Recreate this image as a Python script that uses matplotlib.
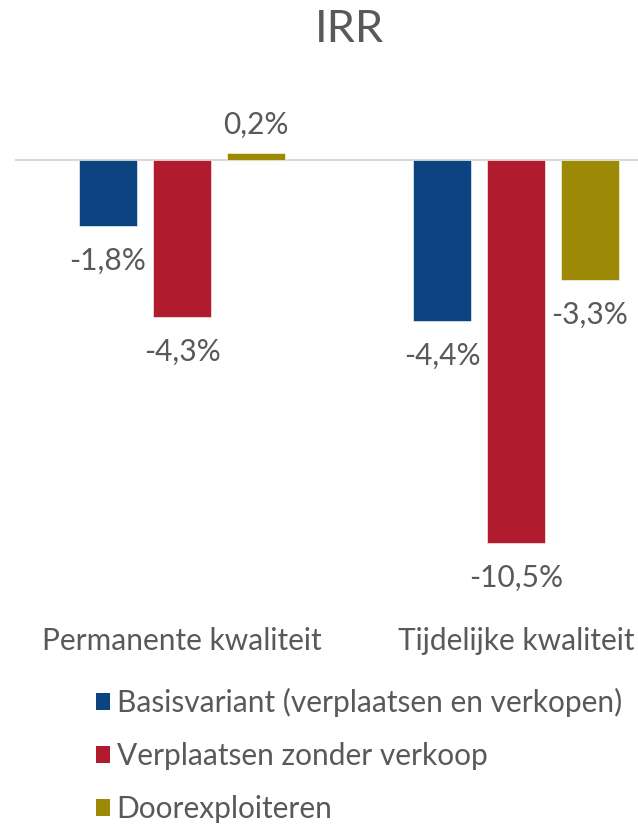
import matplotlib
matplotlib.use("Agg")
import matplotlib.pyplot as plt
from matplotlib.patches import Patch
import numpy as np

categories = ["Permanente kwaliteit", "Tijdelijke kwaliteit"]
series_names = [
    "Basisvariant (verplaatsen en verkopen)",
    "Verplaatsen zonder verkoop",
    "Doorexploiteren",
]
basis = [-1.8, -4.4]
zonder_verkoop = [-4.3, -10.5]
doorexploiteren = [0.2, -3.3]
series_values = [basis, zonder_verkoop, doorexploiteren]
colors = ["#0B4480", "#B01C2E", "#9C8A06"]

text_color = "#595959"
plt.rcParams["font.family"] = ["Lato", "DejaVu Sans"]
fs = 21.5

W, H = 638, 825
fig = plt.figure(figsize=(W / 100, H / 100), dpi=100)

# axes placed in pixel units: left 15, right 638, top 100, bottom 560
ax_left, ax_right, ax_top, ax_bottom = 15, 638, 100, 560
ax = fig.add_axes([ax_left / W, 1 - ax_bottom / H,
                   (ax_right - ax_left) / W, (ax_bottom - ax_top) / H])

px_per_unit_x = 334.0
center0_px = 182.0
ax.set_xlim((ax_left - center0_px) / px_per_unit_x,
            (ax_right - center0_px) / px_per_unit_x)
px_per_pct = 36.5
zero_px = 160.0
ax.set_ylim(-(ax_bottom - zero_px) / px_per_pct, (zero_px - ax_top) / px_per_pct)

x = np.arange(len(categories))
bar_w = 58 / px_per_unit_x
step = 74 / px_per_unit_x

for i, (vals, col) in enumerate(zip(series_values, colors)):
    xpos = x + (i - 1) * step
    ax.bar(xpos, vals, width=bar_w, color=col, edgecolor="white",
           linewidth=0.4, zorder=2)
    for xp, v in zip(xpos, vals):
        label = f"{v:.1f}%".replace(".", ",")
        dy = 20 if v >= 0 else -25
        ax.annotate(label, (xp, v), xytext=(0, dy), textcoords="offset points",
                    ha="center", va="center", fontsize=fs, color=text_color)

ax.axhline(0, color="#D9D9D9", linewidth=1.5, zorder=1)
for s in ax.spines.values():
    s.set_visible(False)
ax.set_yticks([])
ax.set_xticks([])

# category labels below the plot
for xi, cat in zip(x, categories):
    ax.annotate(cat, (xi, 0), xycoords=("data", "figure fraction"),
                xytext=(xi, 1 - 641 / H), textcoords=("data", "figure fraction"),
                ha="center", va="center", fontsize=fs, color=text_color)

fig.text(349 / W, 1 - 29 / H, "IRR", ha="center", va="center",
         fontsize=32.5, color=text_color)

handles = [Patch(facecolor=c, edgecolor="none") for c in colors]
leg = fig.legend(handles, series_names, loc="upper left",
                 bbox_to_anchor=(84 / W, 1 - 676 / H), frameon=False,
                 fontsize=fs, handlelength=0.47, handleheight=0.47,
                 handletextpad=0.22, labelspacing=0.84, borderaxespad=0)
for t in leg.get_texts():
    t.set_color(text_color)

fig.savefig("out.png", dpi=100)
